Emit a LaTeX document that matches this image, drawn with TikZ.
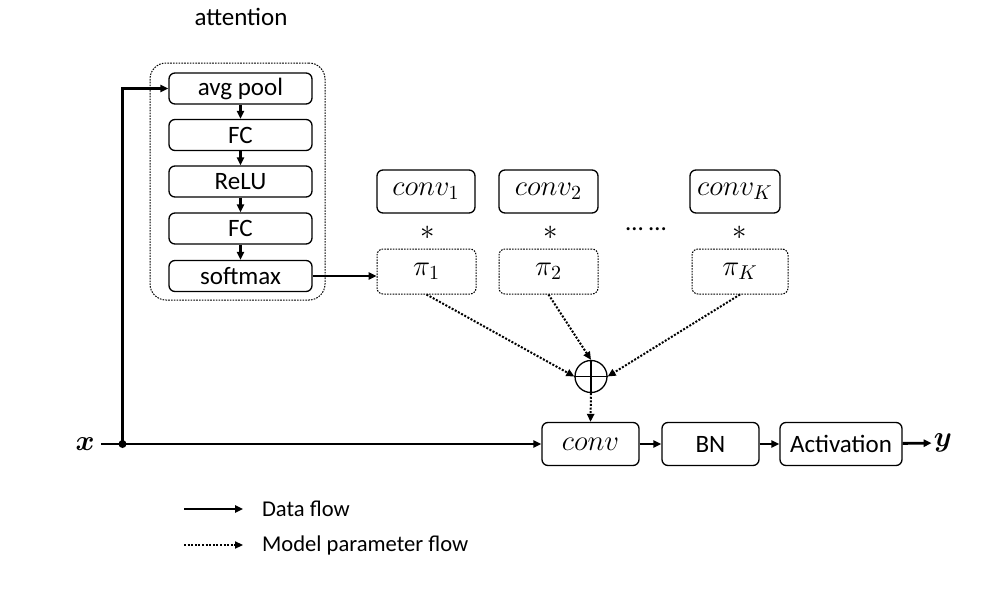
\documentclass[tikz,border=0pt]{standalone}
\usepackage{amsmath}
\usepackage{fontspec}
\setmainfont{Carlito}
\usetikzlibrary{arrows.meta}

\begin{document}
\begin{tikzpicture}[x=0.5pt,y=-0.5pt,>={Triangle[length=4pt,width=3.6pt]},
            data/.style={->,line width=1.4pt},
            param/.style={->,line width=1pt,dash pattern=on 1pt off 0.8pt}]
            \useasboundingbox (0,0) rectangle (986,595);

            % attention branch
            \node[draw,line width=0.5pt,dash pattern=on 0.8pt off 0.6pt,rounded corners=8pt,minimum width=87.5pt,minimum height=118.5pt] (att) at (237.5,181.5) {};
            \node[font=\fontsize{12.5}{14}\selectfont] (attlabel) at (241,17) {attention};
            \begin{scope}[every node/.style={draw,rounded corners=3pt,line width=0.65pt,minimum width=71.5pt,minimum height=15.5pt,inner sep=0pt,font=\fontsize{12.5}{14}\selectfont}]
                \node (pool) at (240.5,88.5) {avg pool};
                \node (fc1) at (240.5,135) {FC};
                \node (relu) at (240.5,181.5) {ReLU};
                \node (fc2) at (240.5,228.5) {FC};
                \node (soft) at (240.5,276) {softmax};
            \end{scope}

            % kernels and weights
            \begin{scope}[every node/.style={draw,rounded corners=3pt,line width=0.65pt,minimum height=21.5pt,inner sep=0pt,font=\fontsize{14.5}{16}\selectfont}]
                \node[minimum width=49pt] (k1) at (426,191.5) {$conv_1$};
                \node[minimum width=49.5pt] (k2) at (548.5,191.5) {$conv_2$};
                \node[minimum width=45pt] (kK) at (735,191.5) {$conv_K$};
                \node[dash pattern=on 0.8pt off 0.6pt,line width=0.5pt,minimum width=49.5pt,minimum height=22.5pt] (pi1) at (426.5,271.5) {$\pi_1$};
                \node[dash pattern=on 0.8pt off 0.6pt,line width=0.5pt,minimum width=49.5pt,minimum height=22.5pt] (pi2) at (548.5,271.5) {$\pi_2$};
                \node[dash pattern=on 0.8pt off 0.6pt,line width=0.5pt,minimum width=48pt,minimum height=22.5pt] (piK) at (740,271.5) {$\pi_K$};
            \end{scope}
            \begin{scope}[every node/.style={font=\fontsize{14}{16}\selectfont}]
                \node (s1) at (428,233) {$*$};
                \node (s2) at (551,233) {$*$};
                \node (sK) at (740,233) {$*$};
                \node[font=\fontsize{12.5}{14}\selectfont] (dots) at (646,229) {\dots\ \dots};
            \end{scope}
            \node[draw,circle,line width=0.65pt,minimum size=16pt,inner sep=0pt] (sum) at (591,376.5) {};
            \draw[line width=0.65pt] (sum.north) -- (sum.south) (sum.west) -- (sum.east);

            % main path
            \begin{scope}[every node/.style={draw,rounded corners=3pt,line width=0.65pt,minimum height=21.5pt,inner sep=0pt,font=\fontsize{12.5}{14}\selectfont}]
                \node[minimum width=48.5pt,font=\fontsize{14.5}{16}\selectfont] (conv) at (590.5,444) {$conv$};
                \node[minimum width=48.5pt] (bn) at (710.5,444) {BN};
                \node[minimum width=61pt] (act) at (841,444) {Activation};
            \end{scope}
            \node[font=\fontsize{14}{16}\selectfont,inner sep=3pt] (xlab) at (85,444) {$\boldsymbol{x}$};
            \node[font=\fontsize{14}{16}\selectfont,inner sep=1pt] (ylab) at (943,443) {$\boldsymbol{y}$};
            \coordinate (split) at (122.5,444);
            \fill (split) circle (2pt);

            \begin{scope}[every edge/.style={draw,data}]
                \path (xlab) edge (conv);
                \path (split) edge[to path={|- (\tikztotarget)}] (pool.west);
                \path (pool) edge (fc1);
                \path (fc1) edge (relu);
                \path (relu) edge (fc2);
                \path (fc2) edge (soft);
                \path (soft) edge (soft -| pi1.west);
                \path (conv) edge (bn);
                \path (bn) edge (act);
                \path (act) edge (ylab);
            \end{scope}
            \begin{scope}[every edge/.style={draw,param}]
                \path (pi1.south) edge (sum.west);
                \path (pi2.south) edge (sum.north);
                \path (piK.south) edge (sum.east);
                \path (sum.south) edge (conv.north);
            \end{scope}

            % legend
            \coordinate (d1) at (184,509);
            \coordinate (d2) at (243,509);
            \coordinate (m1) at (184,545);
            \coordinate (m2) at (243,545);
            \draw[data] (d1) -- (d2);
            \draw[param,line width=0.7pt] (m1) -- (m2);
            \node[anchor=west,font=\fontsize{11.3}{13}\selectfont] (dlab) at (255,509) {Data flow};
            \node[anchor=west,font=\fontsize{11.3}{13}\selectfont] (mlab) at (255,545) {Model parameter flow};
        \end{tikzpicture}
\end{document}
